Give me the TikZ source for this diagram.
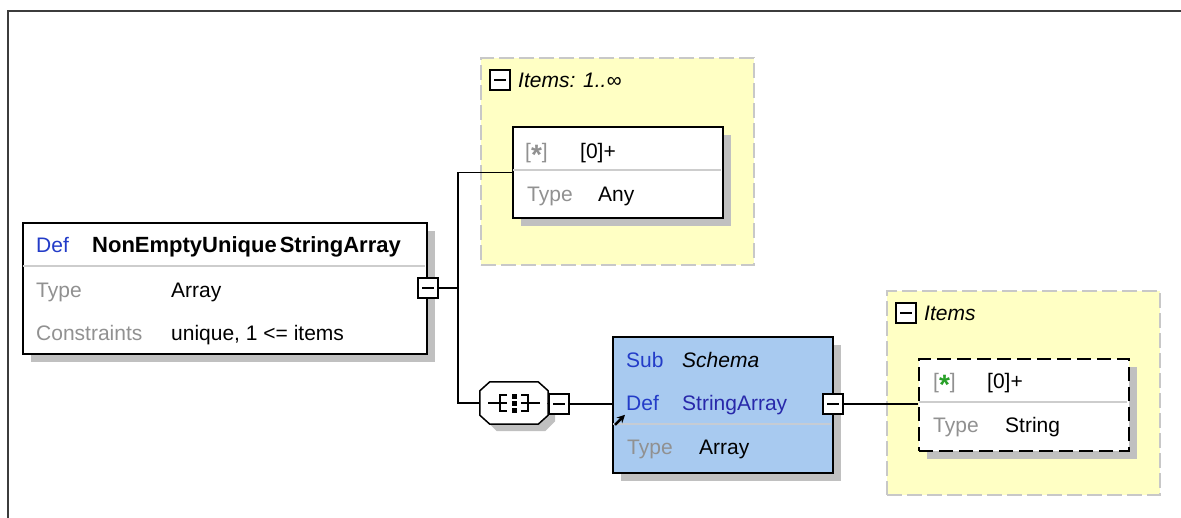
\documentclass[tikz,border=0pt]{standalone}
\usepackage{fontspec}
\setmainfont{Liberation Sans}
\usetikzlibrary{shadows,arrows.meta}
\definecolor{kwblue}{RGB}{35,60,200}
\definecolor{namblue}{RGB}{40,40,170}
\definecolor{lblgray}{RGB}{145,145,145}
\definecolor{divgray}{RGB}{205,205,205}
\definecolor{shadowc}{RGB}{192,192,192}
\definecolor{grpyellow}{RGB}{255,255,196}
\definecolor{grpborder}{RGB}{200,200,200}
\definecolor{boxblue}{RGB}{168,202,240}
\definecolor{stargreen}{RGB}{40,160,40}
\definecolor{framec}{RGB}{60,60,60}
\tikzset{
  txt/.style={anchor=base west, inner sep=0pt, font=\fontsize{21}{25}\selectfont},
  kw/.style={txt, text=kwblue},
  lbl/.style={txt, text=lblgray},
  card/.style={draw=black, line width=1.6pt, fill=white, rectangle, inner sep=0pt, anchor=north west,
    general shadow={fill=shadowc, shadow xshift=8pt, shadow yshift=-8pt}},
  grp/.style={draw=grpborder, fill=grpyellow, line width=2pt, dash pattern=on 15pt off 5pt,
    rectangle, inner sep=0pt, anchor=north west},
  btn/.style={draw=black, line width=1.5pt, fill=white, rectangle, inner sep=0pt, minimum size=20pt,
    path picture={\draw[line width=1.5pt] ([xshift=4pt]path picture bounding box.west) -- ([xshift=-4pt]path picture bounding box.east);}},
  divline/.style={draw=divgray, line width=1.2pt},
  conn/.style={draw=black, line width=1.5pt},
}
\newcommand{\stargray}{{\color{lblgray}[\raisebox{-0.3em}{\fontsize{28}{28}\selectfont\bfseries *}]}}
\newcommand{\stargreen}{{\color{lblgray}[\raisebox{-0.3em}{\fontsize{28}{28}\selectfont\bfseries\color{stargreen} *}]}}
\begin{document}
\begin{tikzpicture}[x=1pt,y=-1pt]
\useasboundingbox (0,0) rectangle (1181,517);
\fill[white] (0,0) rectangle (1181,517);
% outer frame
\draw[framec, line width=2.2pt] (8,520) -- (8,11) -- (1184,11);

% groups
\node[grp, minimum width=273pt, minimum height=207pt] (g1) at (480,57) {};
\node[btn] (g1btn) at (500,80) {};
\node[txt, font=\fontsize{21}{25}\selectfont\itshape] (g1t) at (518,87) {Items: 1..∞};

\node[grp, minimum width=273pt, minimum height=204pt] (g2) at (886,290) {};
\node[btn] (g2btn) at (906,313) {};
\node[txt, font=\fontsize{21}{25}\selectfont\itshape] (g2t) at (924,320) {Items};

% main definition box
\node[card, minimum width=404pt, minimum height=131pt] (main) at (22,222) {};
\draw[divline] (23,266) -- (425,266);
\node[kw] (mdef) at (36,252) {Def};
\node[txt, font=\fontsize{22}{25}\selectfont\bfseries] (mname) at (92,252) {NonEmptyUnique\kern3pt StringArray};
\node[lbl] (mtypel) at (36,297) {Type};
\node[txt] (mtype) at (171,297) {Array};
\node[lbl] (mconl) at (36,340) {Constraints};
\node[txt] (mcon) at (171,340) {unique, 1 <= items};
\node[btn] (mbtn) at (428,288) {};

% Any box
\node[card, minimum width=210pt, minimum height=91pt] (anyb) at (512,126) {};
\draw[divline] (513,170) -- (721,170);
\node[txt] (anystar) at (525,158) {\stargray};
\node[txt] (anyocc) at (580,158) {[0]+};
\node[lbl] (anytl) at (527,201) {Type};
\node[txt] (anyt) at (598,201) {Any};

% sequence compositor (octagon drawn on a named node's frame)
\node[rectangle, inner sep=0pt, minimum width=68pt, minimum height=42pt] (seq) at (514,403) {};
\fill[shadowc] ([shift={(17,7)}]seq.north west) -- ([shift={(-3,7)}]seq.north east) -- ([shift={(7,16)}]seq.north east)
  -- ([shift={(7,-3)}]seq.south east) -- ([shift={(-3,7)}]seq.south east) -- ([shift={(17,7)}]seq.south west)
  -- ([shift={(7,-3)}]seq.south west) -- ([shift={(7,16)}]seq.north west) -- cycle;
\draw[line width=1.5pt, fill=white] ([shift={(10,0)}]seq.north west) -- ([shift={(-10,0)}]seq.north east) -- ([shift={(0,9)}]seq.north east)
  -- ([shift={(0,-9)}]seq.south east) -- ([shift={(-10,0)}]seq.south east) -- ([shift={(10,0)}]seq.south west)
  -- ([shift={(0,-9)}]seq.south west) -- ([shift={(0,9)}]seq.north west) -- cycle;
\draw[line width=1.5pt] ([xshift=-26pt]seq.center) -- ([xshift=-7pt]seq.center);
\draw[line width=1.5pt] ([xshift=7pt]seq.center) -- ([xshift=26pt]seq.center);
\draw[line width=1.5pt] ([shift={(-7,-8)}]seq.center) -- ([shift={(-14,-8)}]seq.center) -- ([shift={(-14,8)}]seq.center) -- ([shift={(-7,8)}]seq.center);
\draw[line width=1.5pt] ([shift={(7,-8)}]seq.center) -- ([shift={(14,-8)}]seq.center) -- ([shift={(14,8)}]seq.center) -- ([shift={(7,8)}]seq.center);
\foreach \dy in {-7,0,7} \fill ([shift={(-2.5,\dy-2.5)}]seq.center) rectangle ([shift={(2.5,\dy+2.5)}]seq.center);
\node[btn] (seqbtn) at (559,404) {};

% blue subschema box
\node[card, fill=boxblue, minimum width=220pt, minimum height=136pt] (blue) at (612,336) {};
\draw[divline, draw=divgray!80!boxblue] (613,424) -- (831,424);
\node[kw] (bsub) at (626,367) {Sub};
\node[txt, font=\fontsize{21}{25}\selectfont\itshape] (bschema) at (682,367) {Schema};
\node[kw] (bdef) at (626,410) {Def};
\node[txt, text=namblue] (bname) at (682,410) {StringArray};
\node[lbl] (btypel) at (627,454) {Type};
\node[txt] (btype) at (699,454) {Array};
\draw[line width=2.4pt, -{Stealth[length=8pt,width=8pt]}] ([shift={(3,20)}]blue.west) -- ([shift={(13,10)}]blue.west);
\node[btn] (bbtn) at (833,404) {};

% String box
\node[card, dash pattern=on 14pt off 6pt, minimum width=210pt, minimum height=92pt] (strb) at (918,358) {};
\draw[divline] (919,402) -- (1127,402);
\node[txt] (strstar) at (933,388) {\stargreen};
\node[txt] (strocc) at (987,388) {[0]+};
\node[lbl] (strtl) at (933,432) {Type};
\node[txt] (strt) at (1005,432) {String};

% connectors
\coordinate (jn) at (458,288);
\draw[conn] (mbtn.east) -- (jn);
\draw[conn] (anyb.west) -| (jn) |- (seq.west);
\draw[conn] (seq.east) -- (seqbtn.west);
\draw[conn] (seqbtn.east) -- (seqbtn.east -| blue.west);
\draw[conn] (bbtn.east) -- (bbtn.east -| strb.west);
\end{tikzpicture}
\end{document}
